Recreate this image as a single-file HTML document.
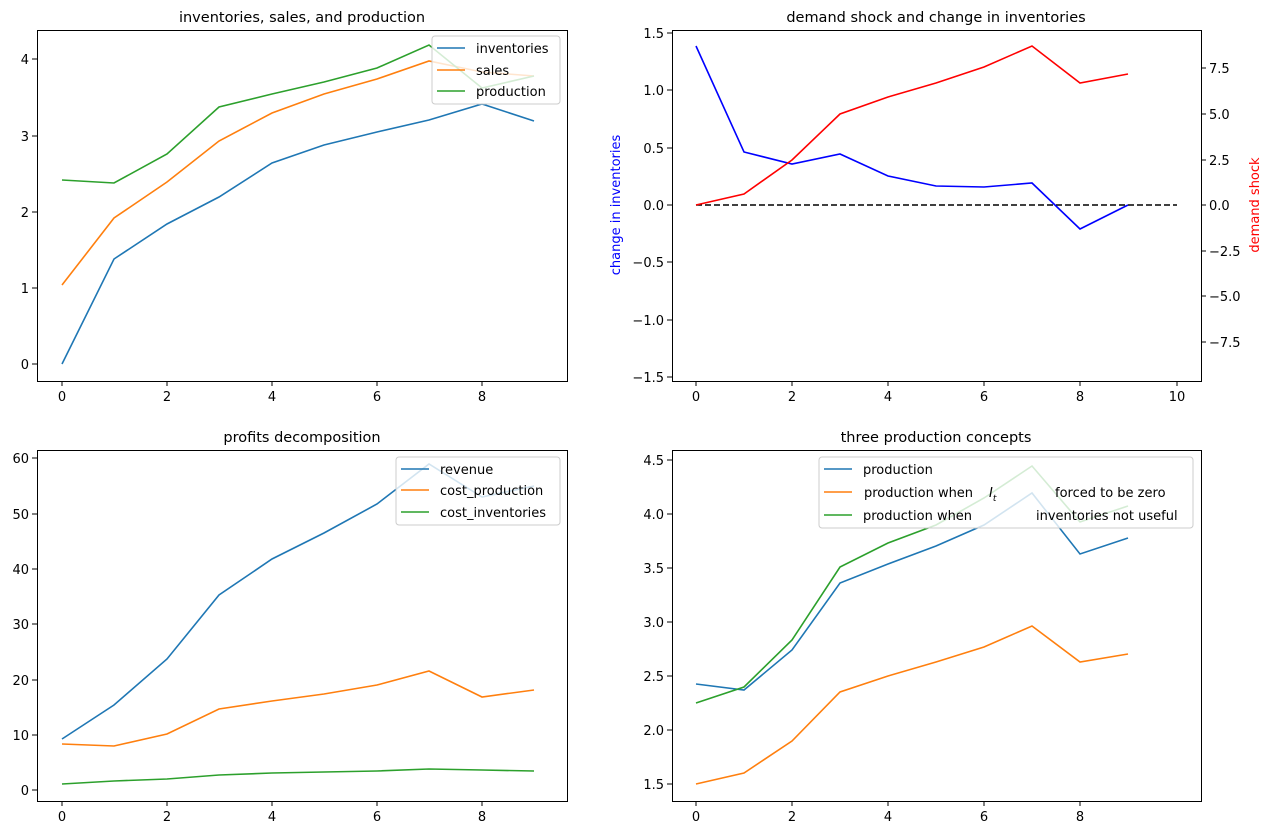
<!DOCTYPE html>
<html><head><meta charset="utf-8"><style>
body{margin:0;background:#fff}
text{font-family:"DejaVu Sans","Liberation Sans",sans-serif;font-size:13px;fill:#000}
.t{font-size:14.5px}
.ax{fill:none;stroke:#000;stroke-width:1}
.ln{fill:none;stroke-width:1.6}
.lg{fill:#fff;fill-opacity:0.8;stroke:#ccc;stroke-width:1}
</style></head><body>
<svg width="1272" height="834" xmlns="http://www.w3.org/2000/svg">
<!-- TL -->
<text class="t" x="302" y="22" text-anchor="middle">inventories, sales, and production</text>
<g>
<polyline class="ln" stroke="#1f77b4" points="62,364 114,259 167,224 219,197 272,163 324,145 377,132 429,120 482,104 534,121"/>
<polyline class="ln" stroke="#ff7f0e" points="62,285 114,218 167,182 219,141 272,113 324,94 377,79 429,61 482,72 534,76"/>
<polyline class="ln" stroke="#2ca02c" points="62,180 114,183 167,154 219,107 272,94 324,82 377,68 429,45 482,88 534,76"/>
<rect class="lg" x="432" y="36" width="128" height="68" rx="3"/>
<line x1="437" y1="48" x2="465" y2="48" stroke="#1f77b4" stroke-width="1.6"/><text x="476" y="53">inventories</text>
<line x1="437" y1="70" x2="465" y2="70" stroke="#ff7f0e" stroke-width="1.6"/><text x="476" y="75">sales</text>
<line x1="437" y1="91" x2="465" y2="91" stroke="#2ca02c" stroke-width="1.6"/><text x="476" y="96">production</text>
<rect class="ax" x="37.5" y="30.5" width="530" height="351"/>
<g stroke="#000"><line x1="62" y1="381" x2="62" y2="386"/><line x1="167" y1="381" x2="167" y2="386"/><line x1="272" y1="381" x2="272" y2="386"/><line x1="377" y1="381" x2="377" y2="386"/><line x1="482" y1="381" x2="482" y2="386"/>
<line x1="32" y1="364" x2="37" y2="364"/><line x1="32" y1="288" x2="37" y2="288"/><line x1="32" y1="212" x2="37" y2="212"/><line x1="32" y1="136" x2="37" y2="136"/><line x1="32" y1="59" x2="37" y2="59"/></g>
<g text-anchor="middle"><text x="62" y="401">0</text><text x="167" y="401">2</text><text x="272" y="401">4</text><text x="377" y="401">6</text><text x="482" y="401">8</text></g>
<g text-anchor="end"><text x="29" y="369">0</text><text x="29" y="293">1</text><text x="29" y="217">2</text><text x="29" y="141">3</text><text x="29" y="64">4</text></g>
</g>
<!-- TR -->
<text class="t" x="936" y="22" text-anchor="middle">demand shock and change in inventories</text>
<g>
<line x1="696" y1="205" x2="1177" y2="205" stroke="#000" stroke-width="1.6" stroke-dasharray="6,3"/>
<polyline class="ln" stroke="#0000ff" points="696,46 744,152 792,164 840,154 888,176 936,186 984,187 1032,183 1080,229 1128,205"/>
<polyline class="ln" stroke="#ff0000" points="696,205 744,194 792,160 840,114 888,97 936,83 984,67 1032,46 1080,83 1128,74"/>
<rect class="ax" x="672.5" y="30.5" width="529" height="351"/>
<g stroke="#000">
<line x1="696" y1="381" x2="696" y2="386"/><line x1="792" y1="381" x2="792" y2="386"/><line x1="888" y1="381" x2="888" y2="386"/><line x1="984" y1="381" x2="984" y2="386"/><line x1="1080" y1="381" x2="1080" y2="386"/><line x1="1177" y1="381" x2="1177" y2="386"/>
<line x1="667" y1="377" x2="672" y2="377"/><line x1="667" y1="320" x2="672" y2="320"/><line x1="667" y1="262" x2="672" y2="262"/><line x1="667" y1="205" x2="672" y2="205"/><line x1="667" y1="148" x2="672" y2="148"/><line x1="667" y1="90" x2="672" y2="90"/><line x1="667" y1="33" x2="672" y2="33"/>
<line x1="1201" y1="68" x2="1206" y2="68"/><line x1="1201" y1="114" x2="1206" y2="114"/><line x1="1201" y1="160" x2="1206" y2="160"/><line x1="1201" y1="205" x2="1206" y2="205"/><line x1="1201" y1="251" x2="1206" y2="251"/><line x1="1201" y1="296" x2="1206" y2="296"/><line x1="1201" y1="342" x2="1206" y2="342"/>
</g>
<g text-anchor="middle"><text x="696" y="401">0</text><text x="792" y="401">2</text><text x="888" y="401">4</text><text x="984" y="401">6</text><text x="1080" y="401">8</text><text x="1177" y="401">10</text></g>
<g text-anchor="end"><text x="664" y="382">−1.5</text><text x="664" y="325">−1.0</text><text x="664" y="267">−0.5</text><text x="664" y="210">0.0</text><text x="664" y="153">0.5</text><text x="664" y="95">1.0</text><text x="664" y="38">1.5</text></g>
<g><text x="1209" y="73">7.5</text><text x="1209" y="119">5.0</text><text x="1209" y="165">2.5</text><text x="1209" y="210">0.0</text><text x="1209" y="256">−2.5</text><text x="1209" y="301">−5.0</text><text x="1209" y="347">−7.5</text></g>
<text x="620" y="205" text-anchor="middle" transform="rotate(-90 620 205)" style="fill:#0000ff">change in inventories</text>
<text x="1259" y="205" text-anchor="middle" transform="rotate(-90 1259 205)" style="fill:#ff0000">demand shock</text>
</g>
<!-- BL -->
<text class="t" x="302" y="442" text-anchor="middle">profits decomposition</text>
<g>
<polyline class="ln" stroke="#1f77b4" points="62,739 114,705 167,659 219,595 272,559 324,533 377,504 429,464 482,497 534,486"/>
<polyline class="ln" stroke="#ff7f0e" points="62,744 114,746 167,734 219,709 272,701 324,694 377,685 429,671 482,697 534,690"/>
<polyline class="ln" stroke="#2ca02c" points="62,784 114,781 167,779 219,775 272,773 324,772 377,771 429,769 482,770 534,771"/>
<rect class="lg" x="396" y="457" width="164" height="68" rx="3"/>
<line x1="401" y1="469" x2="429" y2="469" stroke="#1f77b4" stroke-width="1.6"/><text x="440" y="474">revenue</text>
<line x1="401" y1="490" x2="429" y2="490" stroke="#ff7f0e" stroke-width="1.6"/><text x="440" y="495">cost_production</text>
<line x1="401" y1="512" x2="429" y2="512" stroke="#2ca02c" stroke-width="1.6"/><text x="440" y="517">cost_inventories</text>
<rect class="ax" x="37.5" y="450.5" width="530" height="351"/>
<g stroke="#000"><line x1="62" y1="801" x2="62" y2="806"/><line x1="167" y1="801" x2="167" y2="806"/><line x1="272" y1="801" x2="272" y2="806"/><line x1="377" y1="801" x2="377" y2="806"/><line x1="482" y1="801" x2="482" y2="806"/>
<line x1="32" y1="790" x2="37" y2="790"/><line x1="32" y1="735" x2="37" y2="735"/><line x1="32" y1="680" x2="37" y2="680"/><line x1="32" y1="624" x2="37" y2="624"/><line x1="32" y1="569" x2="37" y2="569"/><line x1="32" y1="514" x2="37" y2="514"/><line x1="32" y1="458" x2="37" y2="458"/></g>
<g text-anchor="middle"><text x="62" y="821">0</text><text x="167" y="821">2</text><text x="272" y="821">4</text><text x="377" y="821">6</text><text x="482" y="821">8</text></g>
<g text-anchor="end"><text x="29" y="795">0</text><text x="29" y="740">10</text><text x="29" y="685">20</text><text x="29" y="629">30</text><text x="29" y="574">40</text><text x="29" y="519">50</text><text x="29" y="463">60</text></g>
</g>
<!-- BR -->
<text class="t" x="936" y="442" text-anchor="middle">three production concepts</text>
<g>
<polyline class="ln" stroke="#1f77b4" points="696,684 744,690 792,650 840,583 888,564 936,546 984,525 1032,493 1080,554 1128,538"/>
<polyline class="ln" stroke="#ff7f0e" points="696,784 744,773 792,741 840,692 888,676 936,662 984,647 1032,626 1080,662 1128,654"/>
<polyline class="ln" stroke="#2ca02c" points="696,703 744,687 792,640 840,567 888,543 936,525 984,498 1032,466 1080,522 1128,506"/>
<rect class="lg" x="819" y="457" width="374" height="71" rx="3"/>
<line x1="824" y1="469" x2="852" y2="469" stroke="#1f77b4" stroke-width="1.6"/><text x="863" y="474">production</text>
<line x1="824" y1="492" x2="852" y2="492" stroke="#ff7f0e" stroke-width="1.6"/><text x="864" y="497">production when</text><text x="989" y="497" font-style="italic">I<tspan font-size="9" dy="4">t</tspan></text><text x="1055" y="497">forced to be zero</text>
<line x1="824" y1="515" x2="852" y2="515" stroke="#2ca02c" stroke-width="1.6"/><text x="863" y="520">production when</text><text x="1036" y="520">inventories not useful</text>
<rect class="ax" x="672.5" y="450.5" width="529" height="351"/>
<g stroke="#000">
<line x1="696" y1="801" x2="696" y2="806"/><line x1="792" y1="801" x2="792" y2="806"/><line x1="888" y1="801" x2="888" y2="806"/><line x1="984" y1="801" x2="984" y2="806"/><line x1="1080" y1="801" x2="1080" y2="806"/>
<line x1="667" y1="784" x2="672" y2="784"/><line x1="667" y1="730" x2="672" y2="730"/><line x1="667" y1="676" x2="672" y2="676"/><line x1="667" y1="622" x2="672" y2="622"/><line x1="667" y1="568" x2="672" y2="568"/><line x1="667" y1="514" x2="672" y2="514"/><line x1="667" y1="460" x2="672" y2="460"/>
</g>
<g text-anchor="middle"><text x="696" y="821">0</text><text x="792" y="821">2</text><text x="888" y="821">4</text><text x="984" y="821">6</text><text x="1080" y="821">8</text></g>
<g text-anchor="end"><text x="664" y="789">1.5</text><text x="664" y="735">2.0</text><text x="664" y="681">2.5</text><text x="664" y="627">3.0</text><text x="664" y="573">3.5</text><text x="664" y="519">4.0</text><text x="664" y="465">4.5</text></g>
</g>
</svg>
</body></html>
